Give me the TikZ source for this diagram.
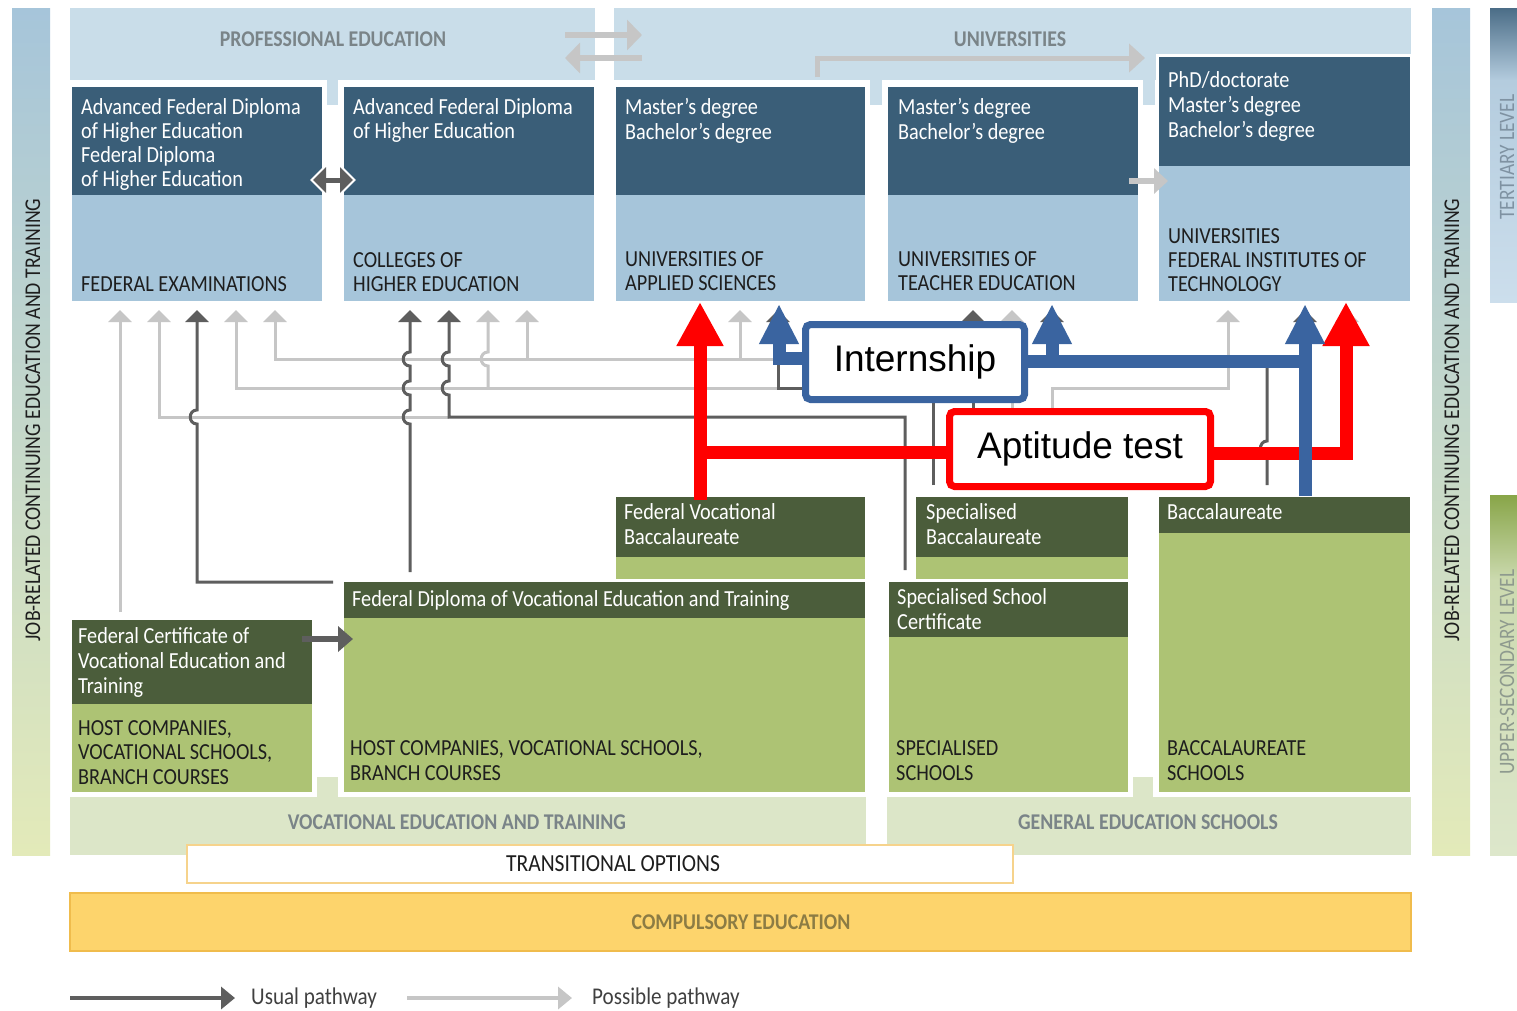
\documentclass[tikz,border=0pt]{standalone}
\usepackage{fontspec}
\setmainfont{Carlito}[FakeStretch=0.88]
\newfontfamily\arialf{Liberation Sans}
\usetikzlibrary{arrows.meta}
\definecolor{hdrblue}{HTML}{3A5E78}
\definecolor{lowblue}{HTML}{A6C5DA}
\definecolor{bandblue}{HTML}{C9DDE9}
\definecolor{hdrgreen}{HTML}{4B5D3B}
\definecolor{lowgreen}{HTML}{ADC374}
\definecolor{bandgreen}{HTML}{DCE6C8}
\definecolor{yel}{HTML}{FDD46C}
\definecolor{yelborder}{HTML}{F0BC4C}
\definecolor{transborder}{HTML}{F6D38C}
\definecolor{bandtext}{HTML}{7A8488}
\definecolor{comptext}{HTML}{8C7C44}
\definecolor{darkarr}{HTML}{5E5E5E}
\definecolor{lightarr}{HTML}{C6C6C6}
\definecolor{intblue}{HTML}{3A64A0}
\definecolor{aptred}{HTML}{FF0000}
\definecolor{boxtext}{HTML}{1E1E1E}
\definecolor{tertext}{HTML}{7F92A2}
\definecolor{uptext}{HTML}{8E9A8E}
\definecolor{terdark}{HTML}{4B6D87}
\definecolor{termid}{HTML}{B4CCDE}
\definecolor{terlow}{HTML}{CCDEEC}
\definecolor{updark}{HTML}{88A548}
\definecolor{upmid}{HTML}{CCDAB0}
\definecolor{uplow}{HTML}{DDE7CB}
\tikzset{
  fnt/.style={font=\fontsize{23}{24}\selectfont},
  wtxt/.style={fnt,text=white,inner sep=0pt,anchor=base west},
  ktxt/.style={fnt,text=boxtext,inner sep=0pt,anchor=base west},
  bandlbl/.style={font=\fontsize{22.5}{24}\selectfont\bfseries,text=bandtext,inner sep=0pt},
  sidelbl/.style={font=\fontsize{22.5}{24}\selectfont,inner sep=0pt,rotate=90},
  box/.style={draw=white,line width=3pt,inner sep=0pt,outer sep=0pt,anchor=north west},
  band/.style={inner sep=0pt,outer sep=0pt,anchor=north west},
  darkln/.style={draw=darkarr,line width=3pt,-{Triangle[width=23pt,length=12pt]}},
  lightln/.style={draw=lightarr,line width=3pt,-{Triangle[width=23pt,length=12pt]}},
  redln/.style={draw=aptred,line width=13pt},
  blueln/.style={draw=intblue,line width=13pt},
  redtip/.style={-{Triangle[width=44pt,length=44pt]}},
  bluetip/.style={-{Triangle[width=37pt,length=40pt]}},
  callout/.style={fill=white,line width=7pt,rounded corners=5pt,font=\arialf\fontsize{37}{40}\selectfont,inner sep=0pt,minimum height=75pt},
}
\newcommand\tlines[6]{%
  \foreach \ln [count=\k] in {#6} {\node[#2] (#1\k) at (#3,{#4+#5*(\k-1)}) {\ln};}}
\begin{document}
\begin{tikzpicture}[x=1pt,y=-1pt]
\useasboundingbox (0,0) rectangle (1517,1010);
\fill[white] (0,0) rectangle (1517,1010);

% side bars
\shade[top color=lowblue, middle color={rgb,255:red,208;green,221;blue,200}, bottom color={rgb,255:red,227;green,234;blue,185}] (12,8) rectangle (50,855);
\shade[top color=lowblue, middle color={rgb,255:red,208;green,221;blue,200}, bottom color={rgb,255:red,227;green,234;blue,185}] (1432,8) rectangle (1470,855);
\shade[top color=terdark, bottom color=termid] (1490,8) rectangle (1530,80.5);
\shade[top color=termid, bottom color=terlow] (1490,80) rectangle (1530,302);
\shade[top color=updark, bottom color=upmid] (1490,495) rectangle (1530,580.5);
\shade[top color=upmid, bottom color=uplow] (1490,580) rectangle (1530,855);
\node[sidelbl,text=boxtext] (lbarT) at (33,420) {JOB-RELATED CONTINUING EDUCATION AND TRAINING};
\node[sidelbl,text=boxtext] (rbarT) at (1452,420) {JOB-RELATED CONTINUING EDUCATION AND TRAINING};
\node[sidelbl,font=\fontsize{22}{24}\selectfont,text=tertext] (tbarT) at (1507,157) {TERTIARY LEVEL};
\node[sidelbl,font=\fontsize{22}{24}\selectfont,text=uptext] (ubarT) at (1507,672) {UPPER-SECONDARY LEVEL};

% top bands
\node[band,fill=bandblue,minimum width=525pt,minimum height=72pt] (profband) at (70,8) {};
\node[band,fill=bandblue,minimum width=797pt,minimum height=72pt] (uniband) at (614,8) {};
\fill[bandblue] (327,78) rectangle (338,105);
\fill[bandblue] (870,78) rectangle (882,105);
\fill[bandblue] (1143,52) rectangle (1155,105);
\node[bandlbl] (profL) at (333,39) {PROFESSIONAL EDUCATION};
\node[bandlbl] (uniL) at (1010,39) {UNIVERSITIES};

% top band arrows
\draw[draw=lightarr,line width=6pt,-{Triangle[width=30pt,length=15pt]}] (565,35) -- (642,35);
\draw[draw=lightarr,line width=6pt,-{Triangle[width=30pt,length=15pt]}] (642,58) -- (565,58);
\draw[draw=lightarr,line width=5pt,-{Triangle[width=28pt,length=16pt]}] (817,77) -- (817,58) -- (1145,58);

% tertiary boxes
\node[box,fill=lowblue,minimum width=253pt,minimum height=217pt] (fedex) at (70,85) {};
\node[box,fill=lowblue,minimum width=253pt,minimum height=217pt] (coll) at (342,85) {};
\node[box,fill=lowblue,minimum width=252pt,minimum height=217pt] (uas) at (614,85) {};
\node[box,fill=lowblue,minimum width=253pt,minimum height=217pt] (ute) at (886,85) {};
\node[box,fill=lowblue,minimum width=254pt,minimum height=247pt] (uni) at (1157,55) {};
\foreach \b in {fedex,coll,uas,ute}
  \fill[hdrblue] ([shift={(1.5pt,-1.5pt)}]\b.north west) rectangle ([shift={(-1.5pt,-110pt)}]\b.north east);
\fill[hdrblue] ([shift={(1.5pt,-1.5pt)}]uni.north west) rectangle ([shift={(-1.5pt,-111pt)}]uni.north east);

\tlines{fedexT}{wtxt}{81}{114}{24}{Advanced Federal Diploma, of Higher Education, Federal Diploma, of Higher Education}
\node[ktxt] (fedexL) at (81,291) {FEDERAL EXAMINATIONS};
\tlines{collT}{wtxt}{353}{114}{24}{Advanced Federal Diploma, of Higher Education}
\tlines{collL}{ktxt}{353}{267}{24}{COLLEGES OF, HIGHER EDUCATION}
\tlines{uasT}{wtxt}{625}{114}{25}{Master's degree, Bachelor's degree}
\tlines{uasL}{ktxt}{625}{266}{24}{UNIVERSITIES OF, APPLIED SCIENCES}
\tlines{uteT}{wtxt}{898}{114}{25}{Master's degree, Bachelor's degree}
\tlines{uteL}{ktxt}{898}{266}{24}{UNIVERSITIES OF, TEACHER EDUCATION}
\tlines{uniT}{wtxt}{1168}{87}{25}{PhD/doctorate, Master's degree, Bachelor's degree}
\tlines{uniL}{ktxt}{1168}{243}{24}{UNIVERSITIES, FEDERAL INSTITUTES OF, TECHNOLOGY}

% small arrows between tertiary boxes
\draw[white,line width=9pt,{Triangle[width=31pt,length=16pt]}-{Triangle[width=31pt,length=16pt]}] (310,180) -- (356,180);
\draw[darkarr,line width=5pt,{Triangle[width=25pt,length=13pt]}-{Triangle[width=25pt,length=13pt]}] (313,180) -- (353,180);
\draw[lightarr,line width=6pt,-{Triangle[width=25pt,length=14pt]}] (1129,181) -- (1168,181);

% lower (green) boxes
\node[box,fill=lowgreen,minimum width=252pt,minimum height=85pt] (fvb) at (614,495) {};
\node[box,fill=lowgreen,minimum width=215pt,minimum height=85pt] (sbac) at (914,495) {};
\node[box,fill=lowgreen,minimum width=254pt,minimum height=298pt] (bacc) at (1157,495) {};
\fill[hdrgreen] ([shift={(1.5pt,-1.5pt)}]fvb.north west) rectangle ([shift={(-1.5pt,-62pt)}]fvb.north east);
\fill[hdrgreen] ([shift={(1.5pt,-1.5pt)}]sbac.north west) rectangle ([shift={(-1.5pt,-62pt)}]sbac.north east);
\fill[hdrgreen] ([shift={(1.5pt,-1.5pt)}]bacc.north west) rectangle ([shift={(-1.5pt,-38pt)}]bacc.north east);

% bottom bands
\node[band,fill=bandgreen,minimum width=796pt,minimum height=58pt] (vetband) at (70,797) {};
\node[band,fill=bandgreen,minimum width=524pt,minimum height=58pt] (gesband) at (887,797) {};
\fill[bandgreen] (317,777) rectangle (338,798);
\fill[bandgreen] (1133,777) rectangle (1153,798);

\node[box,fill=lowgreen,minimum width=524pt,minimum height=213pt] (feddip) at (342,580) {};
\node[box,fill=lowgreen,minimum width=242pt,minimum height=213pt] (ssc) at (887,580) {};
\node[box,fill=lowgreen,minimum width=243pt,minimum height=175pt] (fcert) at (70,618) {};
\fill[hdrgreen] ([shift={(1.5pt,-1.5pt)}]feddip.north west) rectangle ([shift={(-1.5pt,-38pt)}]feddip.north east);
\fill[hdrgreen] ([shift={(1.5pt,-1.5pt)}]ssc.north west) rectangle ([shift={(-1.5pt,-57pt)}]ssc.north east);
\fill[hdrgreen] ([shift={(1.5pt,-1.5pt)}]fcert.north west) rectangle ([shift={(-1.5pt,-86pt)}]fcert.north east);

\tlines{fvbT}{wtxt}{624}{519}{25}{Federal Vocational, Baccalaureate}
\tlines{sbacT}{wtxt}{926}{519}{25}{Specialised, Baccalaureate}
\node[wtxt] (baccT) at (1167,519) {Baccalaureate};
\node[wtxt] (feddipT) at (352,606) {Federal Diploma of Vocational Education and Training};
\tlines{sscT}{wtxt}{897}{604}{25}{Specialised School, Certificate}
\tlines{fcertT}{wtxt}{78}{643}{25}{Federal Certificate of, Vocational Education and, Training}
\tlines{fcertL}{ktxt}{78}{735}{24.5}{{HOST COMPANIES,}, {VOCATIONAL SCHOOLS,}, BRANCH COURSES}
\tlines{feddipL}{ktxt}{350}{755}{25}{{HOST COMPANIES, VOCATIONAL SCHOOLS,}, BRANCH COURSES}
\tlines{sscL}{ktxt}{896}{755}{25}{SPECIALISED, SCHOOLS}
\tlines{baccL}{ktxt}{1167}{755}{25}{BACCALAUREATE, SCHOOLS}

\draw[darkarr,line width=6pt,-{Triangle[width=25pt,length=15pt]}] (302,639) -- (353,639);

\node[bandlbl] (vetL) at (457,822) {VOCATIONAL EDUCATION AND TRAINING};
\node[bandlbl] (gesL) at (1148,822) {GENERAL EDUCATION SCHOOLS};
\node[band,fill=white,draw=transborder,line width=1.5pt,minimum width=826pt,minimum height=38pt] (trans) at (187,845) {};
\node[font=\fontsize{24.5}{26}\selectfont,text=boxtext,inner sep=0pt] (transL) at (613,864) {TRANSITIONAL OPTIONS};
\node[band,fill=yel,draw=yelborder,line width=1.5pt,minimum width=1341pt,minimum height=58pt] (comp) at (70,893) {};
\node[bandlbl,text=comptext] (compL) at (741,922) {COMPULSORY EDUCATION};

% ---- possible pathways (light)
\draw[lightln] (120,612) -- (120,310);
\draw[lightln] (449,417) -- (159,417) -- (159,310);
\draw[lightln] (778,388) -- (236,388) -- (236,310);
\draw[lightln] (1012,485) -- (1012,310);
\draw[lightln] (1012,359) -- (275,359) -- (275,310);
\draw[lightln] (488,388) -- (488,366) .. controls (479,366) and (479,352) .. (488,352) -- (488,310);
\draw[lightln] (527,359) -- (527,310);
\draw[lightln] (740,359) -- (740,310);
\draw[lightln] (1052,485) -- (1052,388) -- (1228,388) -- (1228,310);
\draw[lightln] (1100,449) -- (1347,449) -- (1347,310);

% ---- usual pathways (dark)
\draw[darkln] (333,582) -- (197,582) -- (197,424) .. controls (188,424) and (188,410) .. (197,410) -- (197,310);
\draw[darkln] (410,572) -- (410,424) .. controls (401,424) and (401,410) .. (410,410)
  -- (410,395) .. controls (401,395) and (401,381) .. (410,381)
  -- (410,366) .. controls (401,366) and (401,352) .. (410,352) -- (410,310);
\draw[darkln] (905,570) -- (905,417) -- (449,417)
  -- (449,395) .. controls (440,395) and (440,381) .. (449,381)
  -- (449,366) .. controls (440,366) and (440,352) .. (449,352) -- (449,310);
\draw[darkln] (933,485) -- (933,388) -- (778,388) -- (778,310);
\draw[darkln] (973,485) -- (973,310);
\draw[darkln] (1267,485) -- (1267,457) .. controls (1258,457) and (1258,441) .. (1267,441) -- (1267,361) -- (1052,361) -- (1052,310);
\draw[darkln] (1267,361) -- (1305,361) -- (1305,310);

% ---- aptitude test (red)
\draw[redln,redtip] (700,500) -- (700,302);
\draw[redln] (948,452) -- (700,452);
\draw[redln,redtip] (1212,453) -- (1346,453) -- (1346,302);

% ---- internship (blue)
\draw[blueln,bluetip] (806,358) -- (779,358) -- (779,304);
\draw[blueln] (1026,361) -- (1305,361);
\draw[blueln,bluetip] (1052,361) -- (1052,304);
\draw[blueln,bluetip] (1305,496) -- (1305,304);

\node[callout,draw=intblue,minimum width=219pt] (intern) at (915,362) {Internship};
\node[callout,draw=aptred,minimum width=261pt] (apt) at (1080,449) {Aptitude test};

% legend
\draw[darkarr,line width=4pt,-{Triangle[width=22pt,length=14pt]}] (70,998) -- (235,998);
\node[font=\fontsize{24}{26}\selectfont,text=boxtext!85,anchor=west,inner sep=0pt] (usualL) at (251,998) {Usual pathway};
\draw[lightarr,line width=4pt,-{Triangle[width=22pt,length=14pt]}] (407,998) -- (572,998);
\node[font=\fontsize{24}{26}\selectfont,text=boxtext!85,anchor=west,inner sep=0pt] (possL) at (592,998) {Possible pathway};
\end{tikzpicture}
\end{document}
